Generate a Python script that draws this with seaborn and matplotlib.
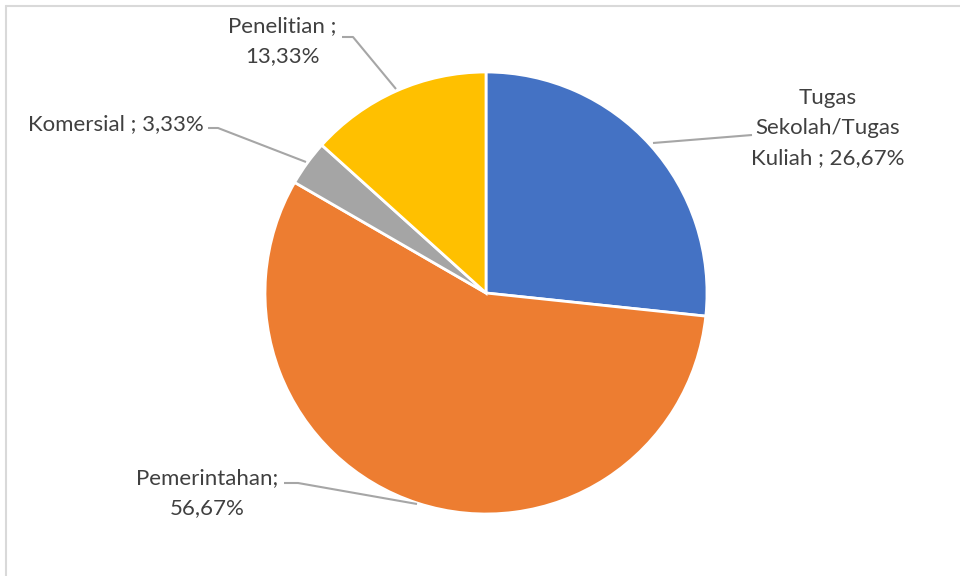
import matplotlib
matplotlib.use("Agg")
import matplotlib.pyplot as plt
import seaborn as sns
from matplotlib.lines import Line2D

sns.set_theme(style="white")
plt.rcParams['font.family'] = ['Lato', 'DejaVu Sans']

categories = ["Tugas\nSekolah/Tugas\nKuliah", "Pemerintahan", "Komersial", "Penelitian"]
values = [26.67, 56.67, 3.33, 13.33]
label_texts = ["Tugas\nSekolah/Tugas\nKuliah ; 26,67%", "Pemerintahan;\n56,67%",
               "Komersial ; 3,33%", "Penelitian ;\n13,33%"]
colors = ["#4472C4", "#ED7D31", "#A5A5A5", "#FFC000"]

W, H = 960, 576
fig = plt.figure(figsize=(9.6, 5.76), dpi=100)
fig.patch.set_facecolor("white")
ax = fig.add_axes([0, 0, 1, 1])

def Y(y):
    return H - y

ax.pie(values, colors=colors, startangle=90, counterclock=False,
       center=(486, Y(293)), radius=221, frame=True,
       wedgeprops=dict(edgecolor="white", linewidth=2))
ax.set_xlim(0, W)
ax.set_ylim(0, H)
ax.axis("off")

# label positions (text center) and leader line paths, in pixel coords
label_pos = [(828, 128), (207, 493), (116, 124), (282, 41)]
leaders = [
    [(653, 143), (752, 135)],
    [(284, 483), (298, 483), (417, 504)],
    [(208, 128), (218, 128), (306, 162)],
    [(342, 37), (353, 37), (396, 89)],
]
text_color = "#404040"
for txt, (x, y), path in zip(label_texts, label_pos, leaders):
    ax.text(x, Y(y), txt, ha="center", va="center", fontsize=16,
            color=text_color, linespacing=1.65)
    xs = [p[0] for p in path]
    ys = [Y(p[1]) for p in path]
    ax.plot(xs, ys, color="#A6A6A6", linewidth=1.5, solid_capstyle="butt")

# chart border
fig.add_artist(Line2D([5.5 / W, 5.5 / W], [0, 1 - 5.5 / H], transform=fig.transFigure,
                      color="#D9D9D9", linewidth=1.5))
fig.add_artist(Line2D([5.5 / W, 1], [1 - 5.5 / H, 1 - 5.5 / H], transform=fig.transFigure,
                      color="#D9D9D9", linewidth=1.5))

fig.savefig("out.png", dpi=100, facecolor="white")
